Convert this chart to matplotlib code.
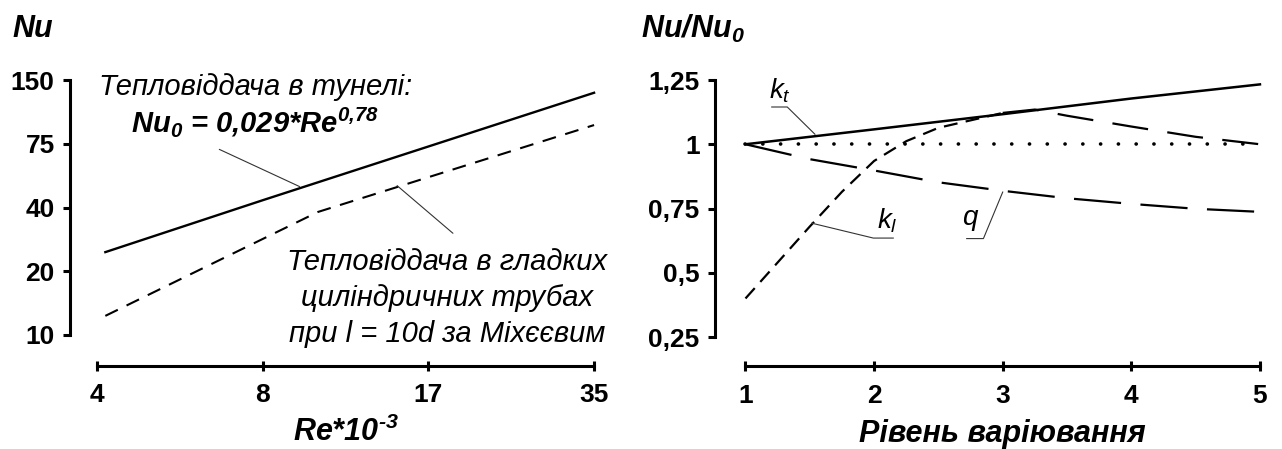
from __future__ import annotations

import matplotlib

matplotlib.use("Agg")
import matplotlib.pyplot as plt
import numpy as np


# Left panel: Nu vs Re (both axes use uneven, evenly spaced tick ladders)
RE_TICKS = [4, 8, 17, 35]
NU_TICKS = [10, 20, 40, 75, 150]

TUNNEL_RE = [4.2, 8, 17, 35]
TUNNEL_NU = [26, 44, 73.5, 135]

TUBE_RE = [4.2, 11, 35]
TUBE_NU = [13, 38.6, 97]

# Right panel: Nu/Nu0 vs variation level
LEVELS = [1, 2, 3, 4, 5]
KT = [1.0, 1.058, 1.117, 1.178, 1.233]
BASELINE = [1.0, 1.0, 1.0, 1.0, 1.0]

Q_LEVELS = [1, 1.5, 2, 2.5, 3, 3.5, 4, 4.5, 5]
Q = [1.0, 0.942, 0.898, 0.852, 0.819, 0.79, 0.768, 0.749, 0.737]

KL_LEVELS = [1, 1.5, 1.75, 2, 2.25, 2.5, 3, 3.25, 3.5, 4, 4.5, 5]
KL = [0.40, 0.68, 0.815, 0.935, 1.012, 1.064, 1.122, 1.135, 1.111, 1.069, 1.029, 1.0]

RATIO_TICKS = [0.25, 0.5, 0.75, 1.0, 1.25]
RATIO_LABELS = ["0,25", "0,5", "0,75", "1", "1,25"]

plt.rcParams["font.family"] = ["Liberation Sans", "DejaVu Sans"]
plt.rcParams["mathtext.fontset"] = "custom"
plt.rcParams["mathtext.rm"] = "Liberation Sans"
plt.rcParams["mathtext.it"] = "Liberation Sans:italic"
plt.rcParams["mathtext.bf"] = "Liberation Sans:bold"
plt.rcParams["mathtext.bfit"] = "Liberation Sans:italic:bold"
plt.rcParams["lines.scale_dashes"] = False

TICK_SIZE = 19
LABEL_SIZE = 22
NOTE_SIZE = 21
LEADER = dict(color="#333333", lw=0.8, clip_on=False)


def ladder(ticks):
    pos = np.arange(len(ticks), dtype=float)

    def forward(v):
        return np.interp(v, ticks, pos)

    def inverse(p):
        return np.interp(p, pos, ticks)

    return forward, inverse


def style_axes(ax, left_off, bottom_off):
    for side in ("top", "right"):
        ax.spines[side].set_visible(False)
    ax.spines["left"].set_position(("outward", left_off))
    ax.spines["bottom"].set_position(("outward", bottom_off))
    for side in ("left", "bottom"):
        ax.spines[side].set_linewidth(2.2)
    ax.tick_params(axis="y", direction="out", length=5, width=2.2, pad=6, labelsize=TICK_SIZE)
    ax.tick_params(axis="x", direction="inout", length=7, width=2.2, pad=9, labelsize=TICK_SIZE)


def bold_ticks(ax):
    for lbl in ax.get_xticklabels() + ax.get_yticklabels():
        lbl.set_fontweight("bold")


def draw_nusselt(fig):
    ax = fig.add_axes([0.0757, 0.2539, 0.3877, 0.5679])
    ax.set_xscale("function", functions=ladder(RE_TICKS))
    ax.set_yscale("function", functions=ladder(NU_TICKS))
    ax.set_xlim(RE_TICKS[0], RE_TICKS[-1])
    ax.set_ylim(NU_TICKS[0], NU_TICKS[-1])
    style_axes(ax, 19.5, 22.3)

    ax.plot(TUNNEL_RE, TUNNEL_NU, color="black", lw=1.7, clip_on=False)
    ax.plot(TUBE_RE, TUBE_NU, color="black", lw=1.5, ls=(0, (10, 7)), clip_on=False)

    ax.set_xticks(RE_TICKS, [str(v) for v in RE_TICKS])
    ax.set_yticks(NU_TICKS, [str(v) for v in NU_TICKS])
    ax.minorticks_off()
    bold_ticks(ax)

    ax.set_xlabel("Re*10$^{\\mathbfit{\u20103}}$", fontsize=LABEL_SIZE,
                  fontweight="bold", style="italic", labelpad=7)

    ax.text(0.319, 0.973, "Тепловіддача в тунелі:", transform=ax.transAxes,
            ha="center", va="center", fontsize=NOTE_SIZE, style="italic")
    ax.text(0.317, 0.835, r"Nu$_{\mathbfit{0}}$ = 0,029*Re$^{\mathbfit{0{,}78}}$",
            transform=ax.transAxes, ha="center", va="center", fontsize=NOTE_SIZE,
            fontweight="bold", style="italic")
    ax.text(0.704, 0.145, "Тепловіддача в гладких\nциліндричних трубах\nпри l = 10d за Міхєєвим",
            transform=ax.transAxes, ha="center", va="center", multialignment="center",
            fontsize=NOTE_SIZE, style="italic", linespacing=1.38)

    ax.annotate("", xy=(10, 51.5), xytext=(0.246, 0.728), textcoords="axes fraction",
                arrowprops=dict(arrowstyle="-", color="#333333", lw=0.8, shrinkA=0, shrinkB=0))
    ax.annotate("", xy=(15.3, 52), xytext=(0.716, 0.399), textcoords="axes fraction",
                arrowprops=dict(arrowstyle="-", color="#333333", lw=0.8, shrinkA=0, shrinkB=0))

    fig.text(0.0101, 0.935, "Nu", fontsize=LABEL_SIZE, fontweight="bold", style="italic",
             ha="left", va="center")


def draw_ratio(fig):
    ax = fig.add_axes([0.5815, 0.2494, 0.4013, 0.5724])
    ax.set_xlim(LEVELS[0], LEVELS[-1])
    ax.set_ylim(RATIO_TICKS[0], RATIO_TICKS[-1])
    style_axes(ax, 22, 21)

    ax.plot(LEVELS, BASELINE, color="black", lw=2.6, ls=(0, (0.1, 12.7)),
            dash_capstyle="round", clip_on=False)
    ax.plot(LEVELS, KT, color="black", lw=1.8, clip_on=False)
    ax.plot(Q_LEVELS, Q, color="black", lw=1.6, ls=(0, (34, 14)), clip_on=False)

    # k_l: the rising branch is drawn with short dashes, the fall-off with long ones
    split = KL_LEVELS.index(3)
    ax.plot(KL_LEVELS[:split + 1], KL[:split + 1], color="black", lw=1.6,
            ls=(0, (10, 6)), clip_on=False)
    ax.plot(KL_LEVELS[split:], KL[split:], color="black", lw=1.6,
            ls=(0, (26, 14)), clip_on=False)

    ax.set_xticks(LEVELS, [str(v) for v in LEVELS])
    ax.set_yticks(RATIO_TICKS, RATIO_LABELS)
    bold_ticks(ax)

    ax.set_xlabel("Рівень варіювання", fontsize=LABEL_SIZE, fontweight="bold",
                  style="italic", labelpad=8)

    # curve captions with underlined leaders
    ax.text(1.18, 1.178, r"$k_t$", fontsize=20, ha="left", va="baseline")
    ax.plot([1.204, 1.325, 1.540], [1.145, 1.145, 1.039], **LEADER)
    ax.text(2.02, 0.673, r"$k_l$", fontsize=20, ha="left", va="baseline")
    ax.plot([2.149, 1.994, 1.515], [0.635, 0.635, 0.693], **LEADER)
    ax.text(2.68, 0.685, r"$q$", fontsize=20, ha="left", va="baseline")
    ax.plot([2.72, 2.85, 3.0], [0.633, 0.633, 0.814], **LEADER)

    fig.text(0.5, 0.935, r"Nu/Nu$_{\mathbfit{0}}$", fontsize=LABEL_SIZE, fontweight="bold",
             style="italic", ha="left", va="center")


def main() -> None:
    fig = plt.figure(figsize=(12.82, 4.49), dpi=100)
    draw_nusselt(fig)
    draw_ratio(fig)
    fig.savefig("out.png", dpi=100)
    plt.close(fig)


if __name__ == "__main__":
    main()
